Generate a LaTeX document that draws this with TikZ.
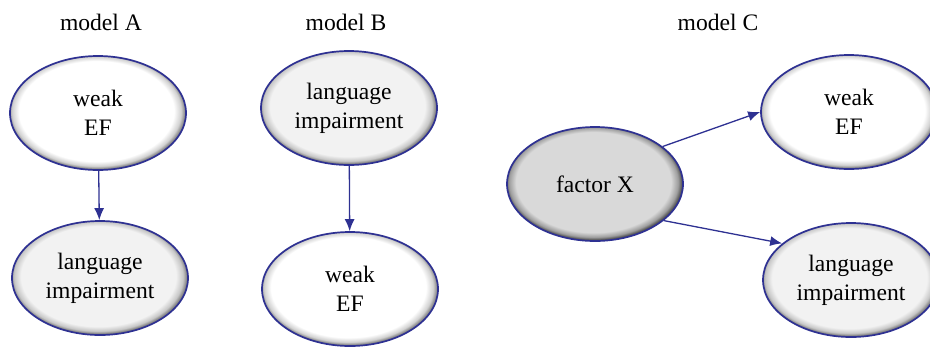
\documentclass[tikz,border=0pt]{standalone}
\usepackage{fontspec}
\setmainfont{LiberationSerif-Regular.ttf}
\usetikzlibrary{shapes.geometric,arrows.meta}

\definecolor{rimblue}{HTML}{2E3192}
\definecolor{palegrey}{HTML}{F2F2F2}
\definecolor{midgrey}{HTML}{D9D9D9}

% lit from the upper left, shadow on the lower right rim
\pgfdeclareradialshading{ovalwhite}{\pgfpoint{-0.8bp}{1.4bp}}{color(0bp)=(white); color(22bp)=(white); color(24bp)=(black!18); color(25bp)=(black!45); color(50bp)=(black!45)}
\pgfdeclareradialshading{ovalpale}{\pgfpoint{-0.8bp}{1.4bp}}{color(0bp)=(palegrey); color(22bp)=(palegrey); color(24bp)=(black!22); color(25bp)=(black!48); color(50bp)=(black!48)}
\pgfdeclareradialshading{ovalgrey}{\pgfpoint{-0.8bp}{1.4bp}}{color(0bp)=(midgrey); color(22bp)=(midgrey); color(24bp)=(black!38); color(25bp)=(black!65); color(50bp)=(black!65)}

\tikzset{
    oval/.style={ellipse, draw=rimblue, line width=0.85pt, minimum width=88pt, minimum height=57pt,
        inner sep=0pt, align=center, font=\fontsize{11.8}{14.5}\selectfont},
    weak/.style={oval, shading=ovalwhite},
    lang/.style={oval, shading=ovalpale},
    cause/.style={oval, shading=ovalgrey},
    link/.style={draw=rimblue, line width=0.65pt, -{Latex[length=6pt,width=5pt]}},
    title/.style={font=\fontsize{11.8}{14}\selectfont}
}

\begin{document}
\begin{tikzpicture}[x=0.5pt, y=-0.5pt]
    \useasboundingbox (0,0) rectangle (930,349);
    % model A
    \node[title] (titleA) at (101, 22) {model A};
    \node[weak] (efA) at (98, 113) {weak\\EF};
    \node[lang] (langA) at (100, 278) {language\\impairment};
    \draw[link] (efA) -- (langA);
    % model B
    \node[title] (titleB) at (346, 22) {model B};
    \node[lang] (langB) at (349, 108) {language\\impairment};
    \node[weak] (efB) at (350, 289) {weak\\EF};
    \draw[link] (langB) -- (efB);
    % model C
    \node[title] (titleC) at (718, 22) {model C};
    \node[cause] (factor) at (595, 184) {factor X};
    \node[weak] (efC) at (849, 112) {weak\\EF};
    \node[lang] (langC) at (851, 280) {language\\impairment};
    \draw[link] (factor.29) -- (efC.west);
    \draw[link] (factor.-28) -- (langC.152);
\end{tikzpicture}
\end{document}
